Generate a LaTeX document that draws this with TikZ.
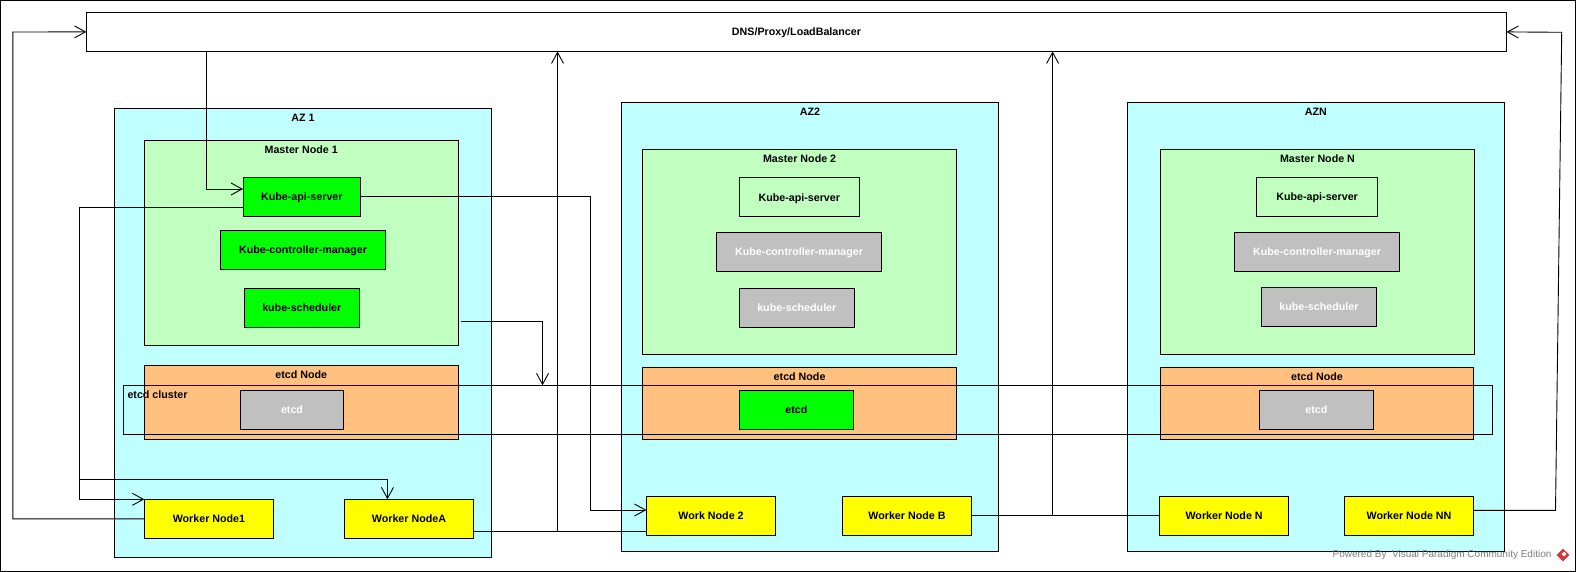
\documentclass[tikz,border=0pt]{standalone}
\usepackage{fontspec}
\setmainfont{Liberation Sans}
\usetikzlibrary{arrows.meta,shapes.geometric}
\definecolor{azc}{HTML}{C0FFFF}
\definecolor{mastc}{HTML}{C0FFC0}
\definecolor{grn}{HTML}{00FF00}
\definecolor{gry}{HTML}{C0C0C0}
\definecolor{orng}{HTML}{FFC080}
\definecolor{yel}{HTML}{FFFF00}
\definecolor{wmgray}{HTML}{7E7E7E}
\definecolor{logored}{HTML}{D8343A}
\newcommand{\mkbox}[7]{\node[#6,minimum width={(#4)-(#2)},minimum height={(#5)-(#3)}] (#1) at ({((#2)+(#4))/2},{((#3)+(#5))/2}) {#7};}
\begin{document}
\begin{tikzpicture}[x=1pt,y=-1pt,
  txt/.style={font=\fontsize{10.7}{12}\selectfont\bfseries,text height=7.7pt,text depth=0pt},
  box/.style={draw=black,line width=1pt,inner sep=0pt,outer sep=0pt,rectangle,txt},
  dnsbox/.style={box,fill=white},
  azbox/.style={box,fill=azc},
  mastbox/.style={box,fill=mastc},
  gbox/.style={box,fill=grn},
  lgbox/.style={box,fill=mastc},
  graybox/.style={box,fill=gry,text=white},
  etcdnode/.style={box,fill=orng},
  clusterbox/.style={box},
  workbox/.style={box,fill=yel},
  lab/.style={txt,inner sep=0pt},
  conn/.style={draw=black,line width=0.9pt},
  arr/.style={conn,-{Straight Barb[length=11pt,width=12pt]}}
]
\useasboundingbox (0,0) rectangle (1576,572);
\fill[white] (0,0) rectangle (1576,572);
\draw[line width=1pt] (0.5,0.5) rectangle (1575.5,571.5);

% DNS
\mkbox{dns}{86.4}{12.3}{1506.5}{51.5}{dnsbox}{DNS/Proxy/LoadBalancer}

% Availability zones
\mkbox{az1}{114.3}{108.3}{491.8}{557.3}{azbox}{}
\mkbox{az2}{621.8}{102.5}{998.2}{551.7}{azbox}{}
\mkbox{azn}{1127.4}{102.3}{1504.4}{551.7}{azbox}{}
\node[lab] (az1l) at (303,117.3) {AZ 1};
\node[lab] (az2l) at (810,111.5) {AZ2};
\node[lab] (aznl) at (1315.9,112) {AZN};

% Master nodes
\mkbox{m1}{144.3}{140.3}{458.2}{345}{mastbox}{}
\mkbox{m2}{642.5}{149.8}{956.8}{354}{mastbox}{}
\mkbox{mn}{1160.4}{149.3}{1474.6}{354}{mastbox}{}
\node[lab] (m1l) at (301.2,149.5) {Master Node 1};
\node[lab] (m2l) at (799.6,159) {Master Node 2};
\node[lab] (mnl) at (1317.5,159) {Master Node N};

% Components
\mkbox{ka1}{243}{177.3}{360.7}{216.3}{gbox}{Kube-api-server}
\mkbox{kc1}{220.4}{230.3}{385.7}{269.3}{gbox}{Kube-controller-manager}
\mkbox{ks1}{244.3}{288.3}{359.3}{327.3}{gbox}{kube-scheduler}
\mkbox{ka2}{739.3}{178}{859.3}{216.3}{lgbox}{Kube-api-server}
\mkbox{kc2}{716.4}{232.3}{881.8}{271.3}{graybox}{Kube-controller-manager}
\mkbox{ks2}{739.3}{288.3}{854.3}{327.3}{graybox}{kube-scheduler}
\mkbox{kan}{1256.9}{177.3}{1377.4}{216.3}{lgbox}{Kube-api-server}
\mkbox{kcn}{1234.2}{232.3}{1399.8}{271.3}{graybox}{Kube-controller-manager}
\mkbox{ksn}{1261.1}{287.3}{1376.7}{326.3}{graybox}{kube-scheduler}

% etcd nodes
\mkbox{en1}{144.3}{365.3}{458.2}{439.3}{etcdnode}{}
\mkbox{en2}{642.5}{367.3}{956.8}{439.3}{etcdnode}{}
\mkbox{enn}{1160.4}{367.3}{1473.5}{439.3}{etcdnode}{}
\node[lab] (en1l) at (301.2,374.5) {etcd Node};
\node[lab] (en2l) at (799.6,376.5) {etcd Node};
\node[lab] (ennl) at (1317,376.5) {etcd Node};

% etcd cluster
\mkbox{cluster}{123.2}{385.3}{1492.3}{434}{clusterbox}{}
\node[lab,anchor=west] (clusterl) at (127.3,394.3) {etcd cluster};

\mkbox{et1}{240.4}{390.3}{343.6}{429.3}{graybox}{etcd}
\mkbox{et2}{739.3}{390.3}{853.6}{429.3}{gbox}{etcd}
\mkbox{etn}{1259.4}{390.3}{1373.5}{429.3}{graybox}{etcd}

% Worker nodes
\mkbox{wn1}{144.3}{499.3}{273.6}{538.3}{workbox}{Worker Node1}
\mkbox{wna}{344.3}{499.3}{473.6}{538.3}{workbox}{Worker NodeA}
\mkbox{wn2}{646.4}{496.3}{775.7}{535.3}{workbox}{Work Node 2}
\mkbox{wnb}{842.5}{496.3}{971.4}{535.3}{workbox}{Worker Node B}
\mkbox{wnn}{1159.4}{496.3}{1288.8}{535.3}{workbox}{Worker Node N}
\mkbox{wnnn}{1344.5}{496.3}{1473.5}{535.3}{workbox}{Worker Node NN}

% helper coordinates
\coordinate (cA) at (206.4,0);
\coordinate (b1) at (79.3,499.3);
\coordinate (b2) at (79.3,479.3);
\coordinate (lf) at (12.9,32);
\coordinate (c4c) at (590.7,510);
\coordinate (c5x) at (542.5,0);
\coordinate (j1) at (557.5,531.3);
\coordinate (j2) at (1052.6,515.8);
\coordinate (r1) at (1555.5,510.3);
\coordinate (r2) at (1561.7,32.3);

% Connectors
\draw[arr] (dns.south -| cA) |- ([yshift=7.8pt]ka1.west);
\draw[arr] ([yshift=-10.5pt]ka1.west) -| (b1) -- (wn1.north west);
\draw[arr] (b2) -| ([xshift=-21.5pt]wna.north);
\draw[arr] (wn1.west) -| (lf) -- (dns.west);
\draw[arr] (ka1.east) -| (c4c) -- ([yshift=5.8pt]wn2.west);
\draw[arr] ([xshift=2.5pt,yshift=-78.65pt]m1.east) -| (cluster.north -| c5x);
\draw[conn] ([yshift=-12.5pt]wna.east) -- ([yshift=-15.5pt]wn2.west);
\draw[arr] (j1) -- (j1 |- dns.south);
\draw[conn] (wnb.east) -- (wnn.west);
\draw[arr] (j2) -- (j2 |- dns.south);
\draw[arr] ([yshift=5.5pt]wnnn.east) -- (r1) -- (r2) -- (dns.east);

% Watermark
\node[font=\fontsize{10}{12}\selectfont,text=wmgray,inner sep=0pt] (wm) at (1442,555.3) {Powered By \ Visual Paradigm Community Edition};
\node[diamond,fill=logored,minimum size=13pt,inner sep=0pt] (logo) at (1563,555) {};
\node[diamond,fill=white,minimum size=5pt,inner sep=0pt] (logoin) at (1564,554) {};
\end{tikzpicture}
\end{document}
